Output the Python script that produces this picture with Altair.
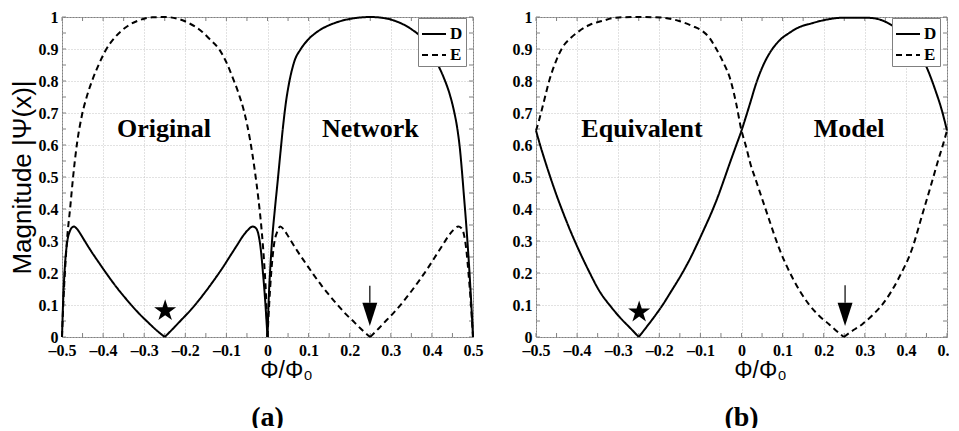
import altair as alt
import pandas as pd

# ---------------- data ----------------
SERIES = ["D", "E"]
DASHES = [[1, 0], [6, 4]]

# panel (a)
A_D_X = [-0.5, -0.497, -0.493, -0.487, -0.481, -0.476, -0.471, -0.463, -0.455, -0.447, -0.43, -0.41,
         -0.39, -0.37, -0.35, -0.33, -0.31, -0.29, -0.27, -0.25,
         -0.23, -0.21, -0.19, -0.17, -0.15, -0.13, -0.11, -0.09, -0.075, -0.06, -0.048, -0.036,
         -0.028, -0.022, -0.016, -0.011, -0.006,
         0.0, 0.003, 0.007, 0.011, 0.018, 0.025, 0.031, 0.038, 0.045, 0.052, 0.065, 0.081, 0.1,
         0.117, 0.135, 0.157, 0.18, 0.21, 0.25, 0.29, 0.32, 0.35, 0.375, 0.393, 0.41, 0.429, 0.443,
         0.454, 0.462, 0.468, 0.473, 0.478, 0.483, 0.488, 0.492, 0.496, 0.5]
A_D_Y = [0.0, 0.12, 0.22, 0.30, 0.33, 0.342, 0.345, 0.337, 0.322, 0.305, 0.27, 0.232,
         0.195, 0.16, 0.128, 0.098, 0.07, 0.045, 0.021, 0.0,
         0.026, 0.053, 0.08, 0.11, 0.143, 0.178, 0.215, 0.255, 0.285, 0.315, 0.334, 0.345,
         0.34, 0.32, 0.27, 0.2, 0.12,
         0.0, 0.12, 0.22, 0.3, 0.4, 0.49, 0.57, 0.66, 0.735, 0.79, 0.86, 0.9, 0.931,
         0.95, 0.965, 0.978, 0.988, 0.996, 1.0, 0.995, 0.983, 0.962, 0.935, 0.9, 0.862, 0.81, 0.76,
         0.705, 0.65, 0.59, 0.52, 0.44, 0.36, 0.27, 0.19, 0.1, 0.0]
A_D_CUSPS = [-0.25, 0.0]

A_E_X = [-0.5, -0.497, -0.493, -0.488, -0.48, -0.473, -0.464, -0.452, -0.44, -0.427, -0.41, -0.395,
         -0.37, -0.34, -0.31, -0.28, -0.25, -0.22, -0.19, -0.16, -0.14, -0.118, -0.1, -0.086, -0.07,
         -0.057, -0.043, -0.032, -0.022, -0.014, -0.008, -0.004,
         0.0, 0.004, 0.009, 0.016, 0.024, 0.031, 0.039, 0.047, 0.055, 0.072, 0.092, 0.112, 0.132,
         0.152, 0.172, 0.192, 0.212, 0.231, 0.25,
         0.27, 0.29, 0.31, 0.33, 0.35, 0.37, 0.39, 0.41, 0.425, 0.44, 0.452, 0.464,
         0.472, 0.478, 0.484, 0.489, 0.494, 0.5]
A_E_Y = [0.0, 0.1, 0.2, 0.3, 0.405, 0.5, 0.6, 0.69, 0.75, 0.8, 0.853, 0.893,
         0.938, 0.972, 0.991, 0.999, 1.0, 0.995, 0.98, 0.955, 0.93, 0.9, 0.858, 0.815, 0.76,
         0.705, 0.62, 0.53, 0.43, 0.33, 0.23, 0.14,
         0.0, 0.1, 0.2, 0.29, 0.33, 0.345, 0.337, 0.322, 0.305, 0.27, 0.232, 0.195, 0.16,
         0.128, 0.098, 0.07, 0.045, 0.021, 0.0,
         0.026, 0.053, 0.08, 0.11, 0.143, 0.178, 0.215, 0.255, 0.285, 0.315, 0.334, 0.345,
         0.34, 0.32, 0.27, 0.2, 0.12, 0.0]
A_E_CUSPS = [0.0, 0.25]

# panel (b)
B_D_X = [-0.5, -0.49, -0.478, -0.464, -0.45, -0.436, -0.42, -0.404, -0.388, -0.371, -0.345, -0.318,
         -0.295, -0.27, -0.25, -0.23, -0.21, -0.193, -0.17, -0.144, -0.125, -0.108, -0.09, -0.071,
         -0.057, -0.043, -0.028, -0.014, 0.0, 0.01, 0.022, 0.035, 0.055, 0.075, 0.095, 0.116, 0.14,
         0.17, 0.2, 0.25, 0.3, 0.327, 0.362, 0.4, 0.425, 0.449, 0.472, 0.488, 0.5]
B_D_Y = [0.645, 0.6, 0.55, 0.495, 0.443, 0.395, 0.343, 0.295, 0.25, 0.205, 0.142, 0.095,
         0.06, 0.027, 0.0, 0.033, 0.067, 0.098, 0.145, 0.2, 0.245, 0.29, 0.34, 0.395,
         0.44, 0.49, 0.545, 0.595, 0.645, 0.685, 0.735, 0.79, 0.855, 0.9, 0.93, 0.95, 0.968,
         0.98, 0.99, 0.998, 0.998, 0.995, 0.977, 0.94, 0.9, 0.847, 0.77, 0.706, 0.645]
B_D_CUSPS = [-0.25]

B_E_X = [-0.5, -0.493, -0.48, -0.468, -0.452, -0.436, -0.415, -0.395, -0.37, -0.339, -0.306, -0.25,
         -0.193, -0.152, -0.12, -0.095, -0.078, -0.063, -0.045, -0.026, -0.013, 0.0, 0.01, 0.022,
         0.035, 0.063, 0.091, 0.124, 0.164, 0.19, 0.213, 0.232, 0.249, 0.266, 0.294, 0.32, 0.343,
         0.383, 0.416, 0.44, 0.464, 0.478, 0.49, 0.5]
B_E_Y = [0.645, 0.675, 0.74, 0.8, 0.86, 0.904, 0.935, 0.956, 0.975, 0.9875, 0.998, 1.0,
         0.998, 0.9875, 0.972, 0.956, 0.935, 0.904, 0.86, 0.8, 0.73, 0.645, 0.6, 0.54,
         0.49, 0.383, 0.279, 0.185, 0.102, 0.065, 0.04, 0.018, 0.0, 0.016, 0.04, 0.07, 0.102,
         0.185, 0.279, 0.383, 0.4875, 0.55, 0.6, 0.645]
B_E_CUSPS = [0.249]

# annotations
A_WORDS = ["Original", "Network"]
A_WORD_X = [-0.252, 0.25]
B_WORDS = ["Equivalent", "Model"]
B_WORD_X = [-0.242, 0.262]
WORD_Y = [0.65, 0.65]

A_STAR = (-0.249, 0.082)
B_STAR = (-0.249, 0.078)
# arrow: x, shaft top, head top, tip
A_ARROW = (0.249, 0.16, 0.107, 0.034)
B_ARROW = (0.252, 0.162, 0.107, 0.034)

X_LABELS = [round(-0.5 + 0.1 * i, 1) for i in range(11)]
Y_LABELS = [round(0.1 * i, 1) for i in range(11)]
X_MINOR = [round(-0.5 + 0.05 * i, 2) for i in range(21)]
Y_MINOR = [round(0.05 * i, 2) for i in range(21)]

STAR_PATH = ("M0,-1L0.2245,-0.309L0.951,-0.309L0.363,0.118L0.588,0.809L0,0.382"
             "L-0.588,0.809L-0.363,0.118L-0.951,-0.309L-0.2245,-0.309Z")
HEAD_PATH = "M-0.64,-1L0.64,-1L0,1Z"

W, H = 411, 320
SERIF = "Liberation Serif"
SANS = "Liberation Sans"
LABEL_EXPR = "replace(replace(format(datum.value, '~g'), '\u2212', '\u2013'), '-', '\u2013')"


def pieces(xs, ys, name, cusps):
    """Split a curve at its cusps so that smoothing keeps the sharp corners."""
    rows = []
    seg = 0
    for x, y in zip(xs, ys):
        rows.append({"x": x, "y": y, "series": name, "seg": f"{name}{seg}"})
        if any(abs(x - c) < 1e-9 for c in cusps):
            seg += 1
            rows.append({"x": x, "y": y, "series": name, "seg": f"{name}{seg}"})
    return pd.DataFrame(rows)


def panel(dx, dy, dc, ex, ey, ec, words, word_x, star, arrow, tag, y_title):
    xsc = alt.Scale(domain=[-0.5, 0.5], nice=False, zero=False)
    ysc = alt.Scale(domain=[0, 1], nice=False, zero=False)
    x_enc = alt.X("x:Q", scale=xsc,
                  axis=alt.Axis(values=X_LABELS, labelExpr=LABEL_EXPR, title="Φ/Φ₀",
                                titleX=224, titlePadding=1, labelPadding=5, titleFontSize=23,
                                labelOverlap=False, labelFlush=False, labelBound=False))
    if y_title:
        y_ax = alt.Axis(values=Y_LABELS, labelExpr=LABEL_EXPR, title="Magnitude |Ψ(x)|",
                        titleFontSize=26, titlePadding=3, labelPadding=4,
                        labelOverlap=False, labelFlush=False, labelBound=False)
    else:
        y_ax = alt.Axis(values=Y_LABELS, labelExpr=LABEL_EXPR, title=None, labelPadding=4,
                        labelOverlap=False, labelFlush=False, labelBound=False)
    y_enc = alt.Y("y:Q", scale=ysc, axis=y_ax)

    lines = pd.concat([pieces(dx, dy, "D", dc), pieces(ex, ey, "E", ec)])
    line_layer = alt.Chart(lines).mark_line(color="black", strokeWidth=2,
                                            interpolate="monotone").encode(
        x=x_enc, y=y_enc,
        strokeDash=alt.StrokeDash(
            "series:N", scale=alt.Scale(domain=SERIES, range=DASHES),
            legend=alt.Legend(title=None, orient="none", legendX=356, legendY=1,
                              padding=3, rowPadding=0, strokeColor="#808080", fillColor="white",
                              labelFont=SERIF, labelFontWeight="bold", labelFontSize=17,
                              labelColor="black", labelOffset=3,
                              symbolType="stroke", symbolSize=576, symbolStrokeWidth=2,
                              symbolStrokeColor="black")),
        detail="seg:N",
    )

    words_df = pd.DataFrame({"x": word_x, "y": WORD_Y, "t": words})
    word_layer = alt.Chart(words_df).mark_text(font=SERIF, fontWeight="bold", fontSize=26,
                                               color="black").encode(x=x_enc, y=y_enc, text="t:N")

    star_df = pd.DataFrame({"x": [star[0]], "y": [star[1]]})
    star_layer = alt.Chart(star_df).mark_point(shape=STAR_PATH, filled=True, color="black",
                                               opacity=1, size=535).encode(x=x_enc, y=y_enc)

    shaft_df = pd.DataFrame({"x": [arrow[0]], "y": [arrow[1]], "y2": [arrow[2]]})
    shaft_layer = alt.Chart(shaft_df).mark_rule(color="black", strokeWidth=1.2).encode(
        x=x_enc, y=y_enc, y2="y2:Q")
    head_df = pd.DataFrame({"x": [arrow[0]], "y": [(arrow[2] + arrow[3]) / 2]})
    head_layer = alt.Chart(head_df).mark_point(shape=HEAD_PATH, filled=True, color="black",
                                               opacity=1, size=543).encode(x=x_enc, y=y_enc)

    xt = pd.DataFrame({"x": X_MINOR})
    yt = pd.DataFrame({"y": Y_MINOR})
    tick_style = dict(color="#808080", strokeWidth=1)
    t_bottom = alt.Chart(xt).mark_rule(**tick_style).encode(x=x_enc, y=alt.value(H), y2=alt.value(H - 4))
    t_top = alt.Chart(xt).mark_rule(**tick_style).encode(x=x_enc, y=alt.value(0), y2=alt.value(4))
    t_left = alt.Chart(yt).mark_rule(**tick_style).encode(y=y_enc, x=alt.value(0), x2=alt.value(4))
    t_right = alt.Chart(yt).mark_rule(**tick_style).encode(y=y_enc, x=alt.value(W), x2=alt.value(W - 4))

    return alt.layer(t_bottom, t_top, t_left, t_right, line_layer, word_layer, star_layer,
                     shaft_layer, head_layer).properties(
        width=W, height=H,
        title=alt.TitleParams(tag, orient="bottom", anchor="middle", frame="group",
                              font=SERIF, fontWeight="bold", fontSize=28, offset=22,
                              color="black"))


left = panel(A_D_X, A_D_Y, A_D_CUSPS, A_E_X, A_E_Y, A_E_CUSPS, A_WORDS, A_WORD_X,
             A_STAR, A_ARROW, "(a)", True)
right = panel(B_D_X, B_D_Y, B_D_CUSPS, B_E_X, B_E_Y, B_E_CUSPS, B_WORDS, B_WORD_X,
              B_STAR, B_ARROW, "(b)", False)

chart = alt.hconcat(left, right, spacing=27).resolve_scale(
    strokeDash="independent").resolve_legend(strokeDash="independent").properties(
    padding={"left": 0, "top": 0, "right": -9, "bottom": -5},
    background="white",
).configure_view(stroke="#808080", strokeWidth=1).configure_axis(
    grid=True, gridColor="#c4c4c4", gridDash=[1, 2], gridWidth=1,
    domain=False, ticks=False, tickSize=0,
    labelFont=SERIF, labelFontWeight="bold", labelFontSize=16, labelColor="black",
    titleFont=SANS, titleFontWeight="normal", titleColor="black",
)

chart.save("out.html", embed_options={"renderer": "svg", "actions": False})
